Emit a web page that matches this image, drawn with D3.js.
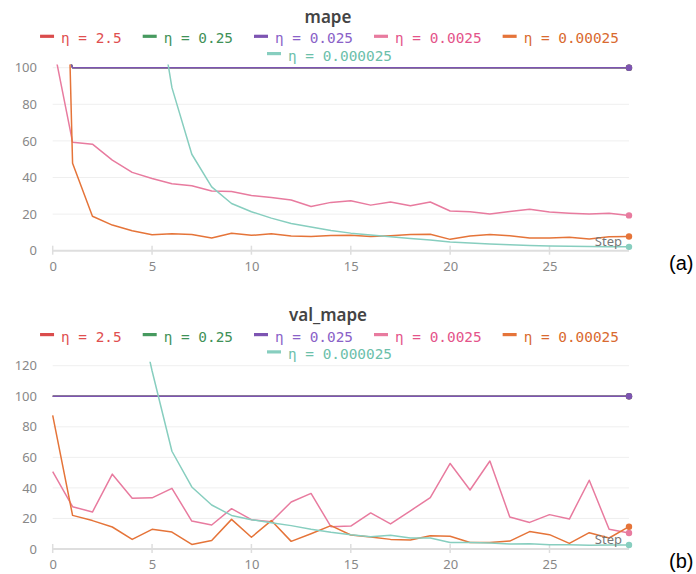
<!DOCTYPE html>
<html><head><meta charset="utf-8">
<script src="https://cdn.jsdelivr.net/npm/d3@7"></script>
<style>
body{margin:0;background:#fff;}
svg{display:block;}
</style></head>
<body>
<svg id="chart" width="696" height="574"></svg>
<script>
// ---------- DATA ----------
const steps = [0,1,2,3,4,5,6,7,8,9,10,11,12,13,14,15,16,17,18,19,20,21,22,23,24,25,26,27,28,29];
const seriesNames = ["η = 2.5","η = 0.25","η = 0.025","η = 0.0025","η = 0.00025","η = 0.000025"];
const seriesColors = ["#da4c4c","#479a5f","#7d54b2","#e87b9f","#e57439","#87cebf"];
const legendTextColors = ["#e04f4f","#3f9158","#8a62c8","#e4548a","#d96a30","#6cc0aa"];

// mape (panel a)
const mapeEta2_5      = [130,100,100,100,100,100,100,100,100,100,100,100,100,100,100,100,100,100,100,100,100,100,100,100,100,100,100,100,100,100];
const mapeEta0_25     = [130,100,100,100,100,100,100,100,100,100,100,100,100,100,100,100,100,100,100,100,100,100,100,100,100,100,100,100,100,100];
const mapeEta0_025    = [130,100,100,100,100,100,100,100,100,100,100,100,100,100,100,100,100,100,100,100,100,100,100,100,100,100,100,100,100,100];
const mapeEta0_0025   = [114,59.3,58.2,49.5,42.8,39.5,36.6,35.5,32.6,32.3,30.2,29.1,27.7,24.2,26.4,27.3,24.9,26.6,24.6,26.6,21.7,21.3,20.0,21.4,22.6,21.2,20.5,20.0,20.5,19.3];
const mapeEta0_00025  = [470,47.8,18.8,14.0,10.9,8.7,9.2,8.8,6.9,9.5,8.4,9.2,8.0,7.8,8.3,8.4,7.8,8.2,8.8,9.0,6.2,8.0,8.8,8.2,7.0,7.0,7.4,6.4,7.6,7.8];
const mapeEta0_000025 = [null,null,null,null,null,155,89.1,52.7,34.9,25.8,21.3,17.8,14.9,12.9,11.1,9.6,8.6,7.6,6.7,5.8,4.8,4.2,3.6,3.2,2.9,2.6,2.4,2.3,2.2,2.1];

// val_mape (panel b)
const valEta2_5      = [100,100,100,100,100,100,100,100,100,100,100,100,100,100,100,100,100,100,100,100,100,100,100,100,100,100,100,100,100,100];
const valEta0_25     = [100,100,100,100,100,100,100,100,100,100,100,100,100,100,100,100,100,100,100,100,100,100,100,100,100,100,100,100,100,100];
const valEta0_025    = [100,100,100,100,100,100,100,100,100,100,100,100,100,100,100,100,100,100,100,100,100,100,100,100,100,100,100,100,100,100];
const valEta0_0025   = [50.6,27.7,24.2,49.0,33.2,33.5,39.7,18.3,15.7,26.4,19.2,17.9,30.8,36.4,14.6,15.0,23.6,16.4,25.0,33.6,56.0,38.6,57.6,21.0,17.4,22.5,19.6,45.0,12.9,10.5];
const valEta0_00025  = [87.5,22.0,18.6,14.4,6.3,12.9,11.1,3.0,5.5,19.4,7.7,18.6,5.0,10.0,15.3,9.2,7.8,6.3,5.9,8.7,8.3,4.2,4.2,5.2,11.4,9.4,3.7,10.7,7.2,14.6];
const valEta0_000025 = [null,null,null,null,175,116.7,64,40.6,28.8,22.0,19.2,17.2,15.3,12.9,10.9,9.3,8.0,9.0,7.2,7.2,4.2,4.2,4.0,3.3,3.5,2.8,2.8,2.4,2.6,2.6];

const xTicks = [0,5,10,15,20,25];
const mapeYTicks = [0,20,40,60,80,100];
const valYTicks = [0,20,40,60,80,100,120];

// ---------- DRAW ----------
const svg = d3.select("#chart");

function panel(cfg){
  const g = svg.append("g").attr("transform", `translate(0,${cfg.offset})`);
  const x = d3.scaleLinear().domain([0,29]).range([52.7,629]);
  const y = d3.scaleLinear().domain([0,cfg.yRef]).range([250.7,cfg.yRefPx]);
  const clipId = "clip"+cfg.id;
  g.append("clipPath").attr("id",clipId).append("rect")
    .attr("x",x(0)-2).attr("y",cfg.clipTop).attr("width",x(29)-x(0)+8).attr("height",260-cfg.clipTop);

  // title
  g.append("text").attr("x",328).attr("y",23).attr("text-anchor","middle")
    .attr("font-family","'Noto Sans', 'Open Sans', sans-serif").attr("font-weight",600)
    .attr("font-size",17).attr("fill","#444").text(cfg.title);

  // legend
  const rows = [[0,1,2,3,4],[5]];
  const rowY = [43.3,60.6];
  rows.forEach((row,ri)=>{
    const lg = g.append("g");
    let cx = 0;
    row.forEach(i=>{
      const it = lg.append("g").attr("transform",`translate(${cx},0)`);
      it.append("line").attr("x1",0).attr("x2",14).attr("y1",rowY[ri]-7).attr("y2",rowY[ri]-7)
        .attr("stroke",seriesColors[i]).attr("stroke-width",3.2);
      const t = it.append("text").attr("x",21).attr("y",rowY[ri])
        .attr("font-family","'DejaVu Sans Mono', monospace").attr("font-size",14.4)
        .attr("fill",legendTextColors[i]).text(seriesNames[i]);
      cx += 21 + t.node().getComputedTextLength() + 21;
    });
    const w = cx - 21;
    lg.attr("transform",`translate(${329.5 - w/2},0)`);
  });

  // grid
  g.append("g").selectAll("line").data(cfg.yTicks.filter(d=>d>0)).join("line")
    .attr("x1",x(0)).attr("x2",x(29)).attr("y1",d=>y(d)).attr("y2",d=>y(d))
    .attr("stroke","#efefef").attr("stroke-width",1);

  // y axis labels
  const yAxis = d3.axisLeft(y).tickValues(cfg.yTicks).tickSize(0).tickPadding(0);
  const ya = g.append("g").attr("transform","translate(37,0)").call(yAxis);
  ya.select(".domain").remove();
  ya.selectAll("text").attr("font-family","'Noto Sans', 'Open Sans', sans-serif")
    .attr("font-size",13).attr("fill","#888");

  // x axis
  const xAxis = d3.axisBottom(x).tickValues(xTicks).tickSize(0).tickPadding(0);
  const xa = g.append("g").attr("transform",`translate(0,${y(0)})`).call(xAxis);
  xa.select(".domain").remove();
  xa.selectAll("text").attr("font-family","'Noto Sans', 'Open Sans', sans-serif")
    .attr("font-size",13).attr("fill","#888").attr("dy","1.55em");
  g.append("line").attr("x1",x(0)).attr("x2",x(29)).attr("y1",y(0)).attr("y2",y(0))
    .attr("stroke","#dedede").attr("stroke-width",2);
  g.append("g").selectAll("line").data(xTicks).join("line")
    .attr("x1",d=>x(d)).attr("x2",d=>x(d)).attr("y1",y(0)-5).attr("y2",y(0)+4)
    .attr("stroke","#dedede").attr("stroke-width",1.5);

  // lines
  const line = d3.line().defined(d=>d!=null).x((d,i)=>x(steps[i])).y(d=>y(d));
  const lg2 = g.append("g").attr("clip-path",`url(#${clipId})`);
  cfg.series.forEach((s,i)=>{
    lg2.append("path").datum(s).attr("d",line).attr("fill","none")
      .attr("stroke",seriesColors[i]).attr("stroke-width",1.5).attr("stroke-linejoin","round");
  });
  cfg.series.forEach((s,i)=>{
    g.append("circle").attr("cx",x(steps[29])).attr("cy",y(s[29])).attr("r",3.2)
      .attr("fill",seriesColors[i]);
  });

  // Step label
  g.append("text").attr("x",622).attr("y",cfg.stepY).attr("text-anchor","end")
    .attr("font-family","'Noto Sans', 'Open Sans', sans-serif").attr("font-size",13)
    .attr("fill","#777").text("Step");

  // panel label
  g.append("text").attr("x",669).attr("y",270)
    .attr("font-family","'Liberation Sans', Arial, sans-serif").attr("font-size",20)
    .attr("fill","#000").text(cfg.label);
}

panel({id:"a", offset:0, title:"mape", yRef:100, yRefPx:67.7, clipTop:64.5, yTicks:mapeYTicks,
  series:[mapeEta2_5,mapeEta0_25,mapeEta0_025,mapeEta0_0025,mapeEta0_00025,mapeEta0_000025],
  stepY:246, label:"(a)"});
panel({id:"b", offset:298.3, title:"val_mape", yRef:120, yRefPx:67.4, clipTop:63.5, yTicks:valYTicks,
  series:[valEta2_5,valEta0_25,valEta0_025,valEta0_0025,valEta0_00025,valEta0_000025],
  stepY:246, label:"(b)"});
</script>
</body></html>
